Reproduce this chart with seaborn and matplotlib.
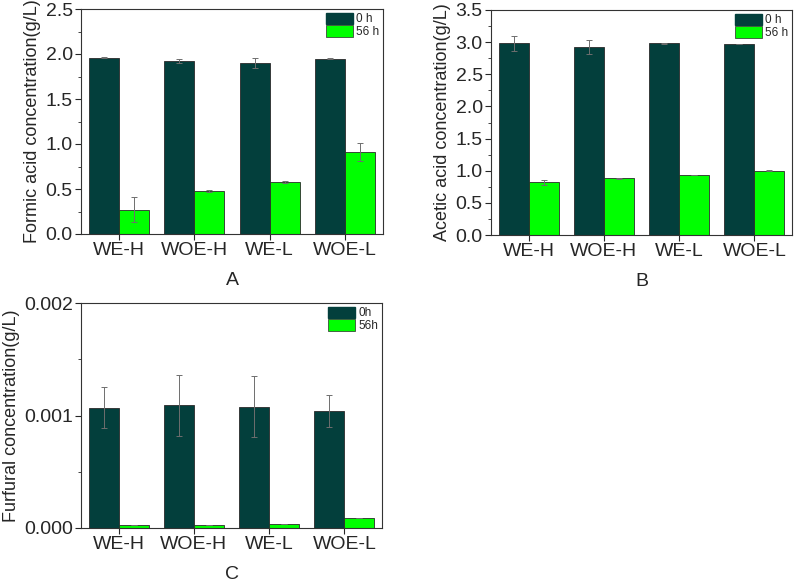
import matplotlib
matplotlib.use("Agg")
import matplotlib.pyplot as plt
from matplotlib.patches import Patch
from matplotlib.ticker import MultipleLocator
import seaborn as sns
import pandas as pd

# sample groups
groups = ["WE-H", "WOE-H", "WE-L", "WOE-L"]

# formic acid (g/L)
formic_0h = [1.96, 1.92, 1.90, 1.95]
formic_0h_err = [0.005, 0.02, 0.06, 0.01]
formic_56h = [0.27, 0.48, 0.58, 0.91]
formic_56h_err = [0.14, 0.012, 0.01, 0.10]

# acetic acid (g/L)
acetic_0h = [2.98, 2.92, 2.98, 2.97]
acetic_0h_err = [0.11, 0.11, 0.005, 0.0]
acetic_56h = [0.82, 0.88, 0.93, 1.00]
acetic_56h_err = [0.035, 0.01, 0.0, 0.005]

# furfural (g/L)
furfural_0h = [0.00107, 0.00109, 0.00108, 0.00104]
furfural_0h_err = [0.00018, 0.00027, 0.00027, 0.00014]
furfural_56h = [0.000024, 0.000027, 0.000038, 0.000092]
furfural_56h_err = [0.0, 0.0, 0.0, 0.0]

DARK = "#033f3c"
GREEN = "#00ff00"

sns.set_theme(style="ticks")
plt.rcParams["font.family"] = ["Liberation Sans", "DejaVu Sans"]


def draw_panel(ax, v0, e0, v56, e56, hue_names, ylabel, letter, ymax, major, minor, fmt):
    df = pd.DataFrame({
        "group": groups * 2,
        "value": v0 + v56,
        "time": [hue_names[0]] * 4 + [hue_names[1]] * 4,
    })
    sns.barplot(data=df, x="group", y="value", hue="time", order=groups,
                hue_order=hue_names, palette=[DARK, GREEN], errorbar=None,
                width=0.8, saturation=1, edgecolor="#2a2a2a", linewidth=0.6,
                legend=False, ax=ax)
    for cont, errs in zip(ax.containers, [e0, e56]):
        xs = [p.get_x() + p.get_width() / 2 for p in cont.patches]
        hs = [p.get_height() for p in cont.patches]
        ax.errorbar(xs, hs, yerr=errs, fmt="none", ecolor="#6e6e6e",
                    elinewidth=0.7, capsize=2.5, capthick=0.7, zorder=5)
    ax.set_xlim(-0.5, 3.5)
    ax.set_ylim(0, ymax)
    ax.yaxis.set_major_locator(MultipleLocator(major))
    ax.yaxis.set_minor_locator(MultipleLocator(minor))
    ax.yaxis.set_major_formatter(fmt)
    ax.tick_params(axis="both", labelsize=14, length=4, width=0.8, pad=2)
    ax.tick_params(axis="y", which="minor", length=2.5, width=0.6)
    ax.set_ylabel(ylabel, fontsize=13, labelpad=3)
    ax.set_xlabel(letter, fontsize=14, labelpad=9)
    for s in ax.spines.values():
        s.set_visible(True)
        s.set_linewidth(0.8)
        s.set_color("#333333")
    handles = [Patch(facecolor=DARK, edgecolor=DARK),
               Patch(facecolor=GREEN, edgecolor="#2a2a2a", linewidth=0.5)]
    ax.legend(handles, hue_names, loc="upper right", frameon=False,
              fontsize=8.5, handlelength=2.3, handleheight=1.1,
              handletextpad=0.3, labelspacing=0.0, borderaxespad=0.1,
              borderpad=0.2)


fig = plt.figure(figsize=(7.96, 5.83), dpi=100)
axA = fig.add_axes([81 / 796, 1 - 234 / 583, 302 / 796, 225 / 583])
axB = fig.add_axes([491 / 796, 1 - 235 / 583, 301 / 796, 225 / 583])
axC = fig.add_axes([81 / 796, 1 - 528 / 583, 301 / 796, 225 / 583])

draw_panel(axA, formic_0h, formic_0h_err, formic_56h, formic_56h_err,
           ["0 h", "56 h"], "Formic acid concentration(g/L)", "A",
           2.5, 0.5, 0.25, "{x:.1f}")
draw_panel(axB, acetic_0h, acetic_0h_err, acetic_56h, acetic_56h_err,
           ["0 h", "56 h"], "Acetic acid concentration(g/L)", "B",
           3.5, 0.5, 0.25, "{x:.1f}")
draw_panel(axC, furfural_0h, furfural_0h_err, furfural_56h, furfural_56h_err,
           ["0h", "56h"], "Furfural concentration(g/L)", "C",
           0.002, 0.001, 0.0005, "{x:.3f}")

fig.savefig("out.png", dpi=100)
